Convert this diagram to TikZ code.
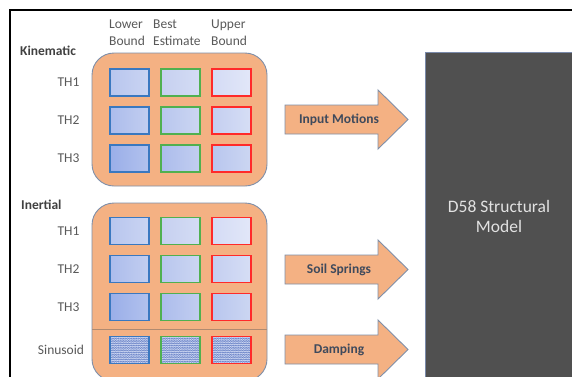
\documentclass[tikz,border=0pt]{standalone}
\usepackage{fontspec}
\setmainfont{Carlito}
\usetikzlibrary{decorations.pathmorphing}

% palette
\definecolor{groupfill}{HTML}{F4B183}
\definecolor{groupline}{HTML}{7F8FA9}
\definecolor{sepcol}{HTML}{B08A70}
\definecolor{labelgray}{HTML}{595959}
\definecolor{headgray}{HTML}{404040}
\definecolor{arrowtxt}{HTML}{3F4A5C}
\definecolor{modelfill}{HTML}{505050}
\definecolor{modelline}{HTML}{7A8AAA}
\definecolor{modeltxt}{HTML}{E2E2E2}
\definecolor{lowcol}{HTML}{3A78C0}
\definecolor{bestcol}{HTML}{50B050}
\definecolor{uppcol}{HTML}{FF2A2A}
\definecolor{wavecol}{HTML}{7088C8}
\definecolor{wavelite}{HTML}{D8E0F6}
\definecolor{wavebase}{HTML}{A9B9E6}
% cell shades: c<row><col>L / R
\definecolor{c11L}{HTML}{B8C6EE}\definecolor{c11R}{HTML}{CAD4F2}
\definecolor{c12L}{HTML}{C6D0F0}\definecolor{c12R}{HTML}{D4DCF4}
\definecolor{c13L}{HTML}{D4DBF5}\definecolor{c13R}{HTML}{E2E7F8}
\definecolor{c21L}{HTML}{ACBCEC}\definecolor{c21R}{HTML}{C2CEF0}
\definecolor{c22L}{HTML}{B8C6EE}\definecolor{c22R}{HTML}{CCD6F2}
\definecolor{c23L}{HTML}{C4CEF0}\definecolor{c23R}{HTML}{D6DEF5}
\definecolor{c31L}{HTML}{9AAEE8}\definecolor{c31R}{HTML}{B2C2EE}
\definecolor{c32L}{HTML}{ACBCEC}\definecolor{c32R}{HTML}{C2CEF0}
\definecolor{c33L}{HTML}{B8C6EE}\definecolor{c33R}{HTML}{CCD6F2}

\tikzset{
  groupbox/.style={fill=groupfill, draw=groupline, line width=0.9pt, rounded corners=22pt},
  cell/.style={rectangle, minimum width=39pt, minimum height=27pt, inner sep=0pt, line width=1.2pt},
  wavecell/.style={cell, fill=wavebase,
    path picture={
      \foreach \k in {0,...,12}{
        \draw[wavecol, line width=0.6pt, decorate,
              decoration={snake, amplitude=0.6pt, segment length=2.6pt}]
          ([xshift=-3pt, yshift=-\k*2.3pt]path picture bounding box.north west) -- ++(46pt,0pt);
        \draw[wavelite, line width=0.35pt, decorate,
              decoration={snake, amplitude=0.5pt, segment length=2.2pt}]
          ([xshift=-2pt, yshift=-\k*2.3pt-1.15pt]path picture bounding box.north west) -- ++(46pt,0pt);}
    }},
  rowlabel/.style={text=labelgray, font=\fontsize{13.5}{17}\selectfont, inner sep=0pt, anchor=base},
  grouplabel/.style={text=headgray, font=\bfseries\fontsize{13.5}{17}\selectfont, inner sep=0pt, anchor=base west},
  colhead/.style={text=labelgray, font=\fontsize{13.5}{17}\selectfont, inner sep=0pt, align=left, anchor=north west},
  arrowshape/.style={fill=groupfill, draw=groupline, line width=0.9pt, line join=miter},
  arrowtext/.style={text=arrowtxt, font=\bfseries\fontsize{13.5}{17}\selectfont, inner sep=0pt, anchor=base},
  modelbox/.style={fill=modelfill, draw=modelline, line width=1pt},
  modeltext/.style={text=modeltxt, font=\fontsize{17.5}{20}\selectfont, inner sep=0pt, align=center, anchor=north}
}

% fat block arrow with its caption
\newcommand\fatarrow[3]{%
  \draw[arrowshape] (285,#2-14.5) -- (378,#2-14.5) -- (378,#2-29.5) -- (408,#2)
    -- (378,#2+29.5) -- (378,#2+14.5) -- (285,#2+14.5) -- cycle;
  \node[arrowtext] (#1) at (339,#2+4.3) {#3};}

\begin{document}
\begin{tikzpicture}[x=1pt, y=-1pt]
\clip (0,0) rectangle (572,376);
\fill[white] (0,0) rectangle (572,376);

% outer frame
\draw[black, line width=2pt] (10,400) -- (10,10) -- (600,10);

% structural model block
\draw[modelbox] (425,52) rectangle (620,420);
\node[modeltext] (model) at (499,200.3) {D58 Structural\\Model};

% column headings
\node[colhead] (hlow)  at (109,19.5) {Lower\\Bound};
\node[colhead] (hbest) at (153,19.5) {Best\\Estimate};
\node[colhead] (hupp)  at (211,19.5) {Upper\\Bound};

% kinematic group
\node[grouplabel] (kin) at (20,55.3) {Kinematic};
\draw[groupbox] (92,53) rectangle (267,186);
\foreach \r/\yy in {1/82.5, 2/120.5, 3/158.5}{
  \node[rowlabel] (kth\r) at (68.5,\yy+4.3) {TH\r};
  \node[cell, draw=lowcol,  left color=c\r1L, right color=c\r1R] (k\r1) at (129.5,\yy) {};
  \node[cell, draw=bestcol, left color=c\r2L, right color=c\r2R] (k\r2) at (180.5,\yy) {};
  \node[cell, draw=uppcol,  left color=c\r3L, right color=c\r3R] (k\r3) at (231.5,\yy) {};
}

% inertial group
\node[grouplabel] (ine) at (21,209.3) {Inertial};
\draw[groupbox] (92,203) rectangle (267,381);
\draw[sepcol, line width=0.8pt] (92,329) -- (267,329);
\foreach \r/\yy in {1/231, 2/269, 3/307}{
  \node[rowlabel] (ith\r) at (68.5,\yy+4.3) {TH\r};
  \node[cell, draw=lowcol,  left color=c\r1L, right color=c\r1R] (i\r1) at (129.5,\yy) {};
  \node[cell, draw=bestcol, left color=c\r2L, right color=c\r2R] (i\r2) at (180.5,\yy) {};
  \node[cell, draw=uppcol,  left color=c\r3L, right color=c\r3R] (i\r3) at (231.5,\yy) {};
}
\node[rowlabel] (sinlab) at (61,354.3) {Sinusoid};
\node[wavecell, draw=lowcol]  (s1) at (129.5,350) {};
\node[wavecell, draw=bestcol] (s2) at (180.5,350) {};
\node[wavecell, draw=uppcol]  (s3) at (231.5,350) {};

% inputs to the model
\fatarrow{inmot}{119.5}{Input Motions}
\fatarrow{soil}{269.5}{Soil Springs}
\fatarrow{damp}{349.5}{Damping}
\end{tikzpicture}
\end{document}
